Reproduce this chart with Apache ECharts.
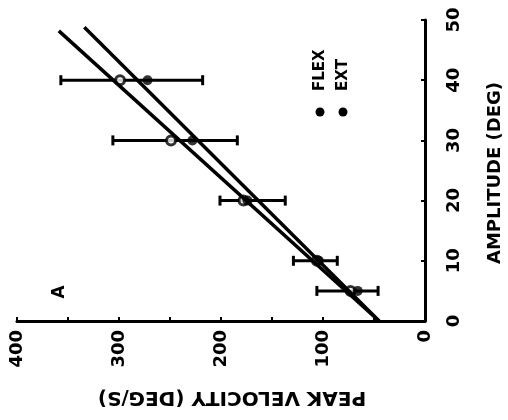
<!DOCTYPE html>
<html>
<head>
<meta charset="utf-8">
<script src="https://cdn.jsdelivr.net/npm/echarts@6/dist/echarts.min.js"></script>
<style>
  html, body { margin: 0; padding: 0; background: #fff; }
  #chart { width: 508px; height: 420px; }
</style>
</head>
<body>
<div id="chart"></div>
<script>
// amplitude (deg) and peak velocity (deg/s)
const amplitudes = [5, 10, 20, 30, 40]
const flexVel = [73, 106, 178, 249, 299]
const extVel = [66, 104, 174, 228, 272]
const errLow = [46, 86, 137, 184, 218]
const errHigh = [106, 129, 201, 306, 357]
// fitted lines, [amplitude, velocity] end points
const flexFit = [[0, 45], [48.2, 359]]
const extFit = [[0, 45], [48.8, 334]]

const font = 'DejaVu Sans'
const chart = echarts.init(document.getElementById('chart'))

const option = {
  animation: false,
  backgroundColor: '#fff',
  grid: { left: 17, right: 83, top: 20, bottom: 99 },
  xAxis: {
    type: 'value',
    min: 0, max: 400, interval: 100,
    inverse: true,
    position: 'bottom',
    axisLine: { lineStyle: { color: '#000', width: 3 } },
    axisTick: { inside: true, length: 4, lineStyle: { color: '#000', width: 2 } },
    minorTick: { show: true, splitNumber: 2, length: 4, lineStyle: { color: '#000', width: 2 } },
    splitLine: { show: false },
    axisLabel: { rotate: 90, margin: 9, fontFamily: font, fontWeight: 'bold', fontSize: 18, color: '#000' }
  },
  yAxis: {
    type: 'value',
    min: 0, max: 50, interval: 10,
    position: 'right',
    axisLine: { lineStyle: { color: '#000', width: 3 } },
    axisTick: { inside: true, length: 4, lineStyle: { color: '#000', width: 2 } },
    splitLine: { show: false },
    axisLabel: { rotate: 90, margin: 20, fontFamily: font, fontWeight: 'bold', fontSize: 18, color: '#000' }
  },
  graphic: [
    { type: 'text', x: 232, y: 397, rotation: Math.PI,
      style: { text: 'PEAK VELOCITY (DEG/S)', font: 'bold 20px ' + font, fill: '#000', align: 'center', verticalAlign: 'middle' } },
    { type: 'text', x: 495, y: 173, rotation: Math.PI / 2,
      style: { text: 'AMPLITUDE (DEG)', font: 'bold 18px ' + font, fill: '#000', align: 'center', verticalAlign: 'middle' } },
    { type: 'text', x: 60, y: 292, rotation: Math.PI / 2,
      style: { text: 'A', font: 'bold 17px ' + font, fill: '#000', align: 'center', verticalAlign: 'middle' } },
    { type: 'circle', shape: { cx: 320, cy: 112, r: 4.5 }, style: { fill: '#000' } },
    { type: 'text', x: 320, y: 91, rotation: Math.PI / 2,
      style: { text: 'FLEX', font: 'bold 15px ' + font, fill: '#000', align: 'left', verticalAlign: 'middle' } },
    { type: 'circle', shape: { cx: 343, cy: 112, r: 4.5 }, style: { fill: '#000' } },
    { type: 'text', x: 343, y: 91, rotation: Math.PI / 2,
      style: { text: 'EXT', font: 'bold 15px ' + font, fill: '#000', align: 'left', verticalAlign: 'middle' } }
  ],
  series: [
    {
      type: 'line',
      data: flexFit.map(p => [p[1], p[0]]),
      symbol: 'none',
      lineStyle: { color: '#000', width: 3.5 }
    },
    {
      type: 'line',
      data: extFit.map(p => [p[1], p[0]]),
      symbol: 'none',
      lineStyle: { color: '#000', width: 3.5 }
    },
    {
      type: 'custom',
      data: amplitudes.map((a, i) => [errLow[i], errHigh[i], a]),
      renderItem: function (params, api) {
        const a = api.value(2)
        const p0 = api.coord([api.value(0), a])
        const p1 = api.coord([api.value(1), a])
        const h = 5
        const st = { stroke: '#000', lineWidth: 3 }
        return {
          type: 'group',
          children: [
            { type: 'line', shape: { x1: p0[0], y1: p0[1], x2: p1[0], y2: p1[1] }, style: st },
            { type: 'line', shape: { x1: p0[0], y1: p0[1] - h, x2: p0[0], y2: p0[1] + h }, style: st },
            { type: 'line', shape: { x1: p1[0], y1: p1[1] - h, x2: p1[0], y2: p1[1] + h }, style: st }
          ]
        }
      }
    },
    {
      type: 'scatter',
      data: amplitudes.map((a, i) => [flexVel[i], a]),
      symbol: 'circle',
      symbolSize: 9,
      itemStyle: { color: '#fff', borderColor: '#000', borderWidth: 3 }
    },
    {
      type: 'scatter',
      data: amplitudes.map((a, i) => [extVel[i], a]),
      symbol: 'circle',
      symbolSize: 10,
      itemStyle: { color: '#000' }
    }
  ]
}
chart.setOption(option)
</script>
</body>
</html>
